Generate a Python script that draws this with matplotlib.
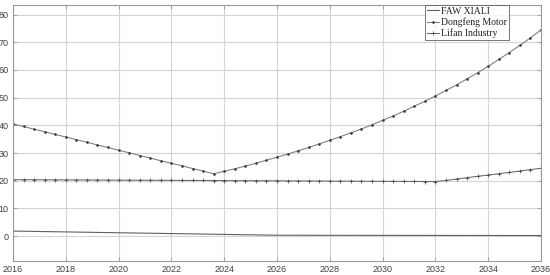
import numpy as np
import matplotlib
matplotlib.use('Agg')
import matplotlib.pyplot as plt

# yearly grid of the model output (0.4 year step)
years = np.linspace(2016, 2036, 51)

faw_xiali = [1.80, 1.74, 1.68, 1.62, 1.56, 1.50, 1.44, 1.38, 1.32, 1.26,
             1.20, 1.14, 1.08, 1.02, 0.96, 0.90, 0.84, 0.78, 0.72, 0.66,
             0.60, 0.54, 0.48, 0.42, 0.36, 0.30, 0.30, 0.29, 0.29, 0.28,
             0.28, 0.27, 0.27, 0.26, 0.26, 0.25, 0.25, 0.24, 0.24, 0.23,
             0.23, 0.22, 0.22, 0.22, 0.21, 0.21, 0.21, 0.20, 0.20, 0.20,
             0.20]

dongfeng = [40.5, 39.6, 38.6, 37.7, 36.7, 35.8, 34.8, 33.9, 32.9, 32.0,
            31.0, 30.1, 29.1, 28.2, 27.2, 26.3, 25.4, 24.4, 23.5, 22.5,
            23.4, 24.3, 25.3, 26.3, 27.4, 28.5, 29.6, 30.8, 32.0, 33.3,
            34.6, 35.9, 37.3, 38.7, 40.2, 41.8, 43.4, 45.1, 46.9, 48.7,
            50.6, 52.6, 54.6, 56.8, 59.0, 61.3, 63.8, 66.3, 68.9, 71.6,
            74.5]

lifan = [20.40, 20.38, 20.37, 20.35, 20.33, 20.31, 20.30, 20.28, 20.26, 20.24,
         20.22, 20.21, 20.19, 20.17, 20.15, 20.14, 20.12, 20.10, 20.08, 20.07,
         20.05, 20.03, 20.01, 19.99, 19.98, 19.96, 19.94, 19.92, 19.91, 19.89,
         19.87, 19.85, 19.84, 19.82, 19.80, 19.78, 19.77, 19.75, 19.73, 19.71,
         19.70, 20.10, 20.60, 21.10, 21.60, 22.05, 22.50, 23.00, 23.50, 24.00,
         24.50]

labels = ['FAW XIALI', 'Dongfeng Motor', 'Lifan Industry']

fig = plt.figure(figsize=(5.5, 2.75), dpi=100)
ax = fig.add_axes([0.0236, 0.051, 0.96, 0.931])

ax.plot(years, faw_xiali, color='#606060', linewidth=0.8, label=labels[0])
ax.plot(years, dongfeng, color='#7a7a7a', linewidth=0.75, marker='.',
        markersize=1.8, markerfacecolor='#3a3a3a', markeredgecolor='#3a3a3a',
        label=labels[1])
ax.plot(years, lifan, color='#6a6a6a', linewidth=0.75, marker='+',
        markersize=2.4, markeredgewidth=0.5, markeredgecolor='#444444',
        label=labels[2])

ax.set_xlim(2016, 2036)
ax.set_ylim(-9, 83.5)
ax.set_xticks(np.arange(2016, 2037, 2))
ax.set_yticks(np.arange(0, 81, 10))

ax.grid(True, color='#d4d4d4', linewidth=0.8)
ax.set_axisbelow(True)
for sp in ax.spines.values():
    sp.set_color('#9a9a9a')
    sp.set_linewidth(0.8)
ax.tick_params(direction='in', length=3, width=0.6, color='#9a9a9a',
               top=True, right=True, labelsize=6.5, labelcolor='#404040', pad=3)
for lab in ax.get_xticklabels() + ax.get_yticklabels():
    lab.set_family(['Liberation Sans', 'DejaVu Sans'])

leg = ax.legend(loc='upper right', bbox_to_anchor=(0.9385, 1.0),
                prop={'family': ['Liberation Serif', 'DejaVu Serif'], 'size': 7},
                frameon=True, fancybox=False, borderpad=0.2, labelspacing=0.15,
                handlelength=1.3, handletextpad=0.15, borderaxespad=0.0)
leg.get_frame().set_edgecolor('#555555')
leg.get_frame().set_linewidth(0.7)
for t in leg.get_texts():
    t.set_color('#222222')

fig.savefig('out.png', dpi=100)
